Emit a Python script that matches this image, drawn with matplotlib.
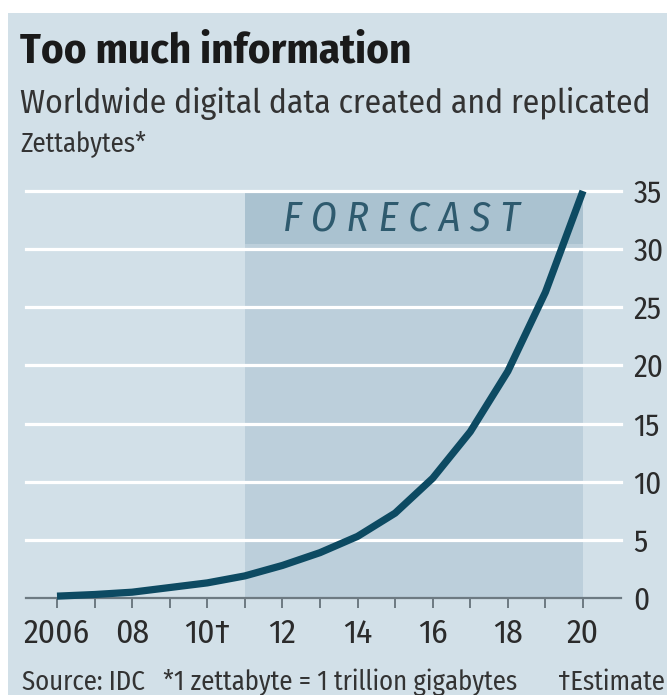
import matplotlib
matplotlib.use("Agg")
import matplotlib.pyplot as plt
from matplotlib.patches import Rectangle

FONT = ['Fira Sans Condensed', 'DejaVu Sans']
plt.rcParams['font.family'] = FONT

years = [2006, 2007, 2008, 2009, 2010, 2011, 2012, 2013, 2014, 2015, 2016, 2017, 2018, 2019, 2020]
zettabytes = [0.16, 0.3, 0.5, 0.9, 1.3, 1.9, 2.8, 3.9, 5.3, 7.3, 10.3, 14.3, 19.5, 26.3, 35.0]
xtick_years = [2006, 2008, 2010, 2012, 2014, 2016, 2018, 2020]
xtick_labels = ["2006", "08", "10\u2020", "12", "14", "16", "18", "20"]
ytick_values = [0, 5, 10, 15, 20, 25, 30, 35]
forecast_start, forecast_end = 2011, 2020

W, H = 667, 695
fig = plt.figure(figsize=(W / 100, H / 100), dpi=100, facecolor='white')
renderer = fig.canvas.get_renderer()


def fit_size(s, target_px, weight='normal', style='normal'):
    t = fig.text(0, 0, s, fontsize=10, fontweight=weight, style=style, family=FONT)
    w = t.get_window_extent(renderer).width
    t.remove()
    return 10 * target_px / w


panel_col = '#d2e0e8'
shade_col = '#bccfdb'
band_col = '#aac2d0'
line_col = '#0d4a62'
text_col = '#2b2b2b'

fig.patches.append(Rectangle((8 / W, 0), 1 - 8 / W, (H - 13) / H, transform=fig.transFigure,
                             facecolor=panel_col, edgecolor='none', zorder=-5))

px_per_year = (583 - 57) / 14
x_left = 2006 - (57 - 26) / px_per_year
x_right = 2020 + (621 - 583) / px_per_year
px_per_unit = (598 - 191) / 35
ytop = 35.6
ax = fig.add_axes([26 / W, (H - 598) / H, 595 / W, ytop * px_per_unit / H], zorder=1)
ax.set_facecolor('none')
ax.set_xlim(x_left, x_right)
ax.set_ylim(0, ytop)
for s in ax.spines.values():
    s.set_visible(False)

# forecast shading
ax.fill_between([forecast_start, forecast_end], 0, 35, color=shade_col, lw=0, zorder=1)
ax.fill_between([forecast_start, forecast_end], 30.4, 35, color=band_col, lw=0, zorder=1)
fc_size = fit_size("F O R E C A S T", 237, style='italic')
ax.text(2006 + (283 - 57) / px_per_year, 32.6, "F O R E C A S T", ha='left', va='center',
        fontsize=fc_size, style='italic', color='#2e5a6e', zorder=2)

# gridlines
for v in ytick_values[1:]:
    ax.axhline(v, color='white', lw=2.3, zorder=2, clip_on=False)
ax.axhline(0, color='#6d7a82', lw=1.6, zorder=2, clip_on=False)

# line
ax.plot(years, zettabytes, color=line_col, lw=5.2, solid_capstyle='butt', solid_joinstyle='round',
        zorder=4, clip_on=False)

tick_size = fit_size("2006", 66)
ax.set_xticks(xtick_years)
ax.set_xticklabels(xtick_labels)
ax.set_xticks(years, minor=True)
ax.tick_params(axis='x', which='both', direction='out', length=7, width=1.4, color='#6d7a82',
               labelsize=tick_size, labelcolor=text_col, pad=7)
ax.yaxis.tick_right()
ax.set_yticks(ytick_values)
ax.set_yticklabels([str(v) for v in ytick_values])
ax.tick_params(axis='y', which='both', length=0, labelsize=tick_size * 0.93, labelcolor=text_col, pad=9)

# titles
fig.text(20 / W, 1 - 51 / H, "Too much information", fontsize=fit_size("Too much information", 390, 'bold'),
         fontweight='bold', color='#1a1a1a', va='center', ha='left')
sub = "Worldwide digital data created and replicated"
fig.text(20 / W, 1 - 104 / H, sub, fontsize=fit_size(sub, 630),
         color='#333333', va='center', ha='left')
fig.text(20 / W, 1 - 144 / H, "Zettabytes*", fontsize=fit_size("Zettabytes*", 127),
         color='#333333', va='center', ha='left')

# footer
foot_size = fit_size("Source: IDC", 123)
fig.text(22 / W, 1 - 682 / H, "Source: IDC", fontsize=foot_size, color='#333333', va='center', ha='left')
fig.text(163 / W, 1 - 682 / H, "*1 zettabyte = 1 trillion gigabytes", fontsize=foot_size, color='#333333',
         va='center', ha='left')
fig.text(665 / W, 1 - 682 / H, "\u2020Estimate", fontsize=foot_size, color='#333333', va='center', ha='right')

fig.savefig('out.png', dpi=100, facecolor='white')
